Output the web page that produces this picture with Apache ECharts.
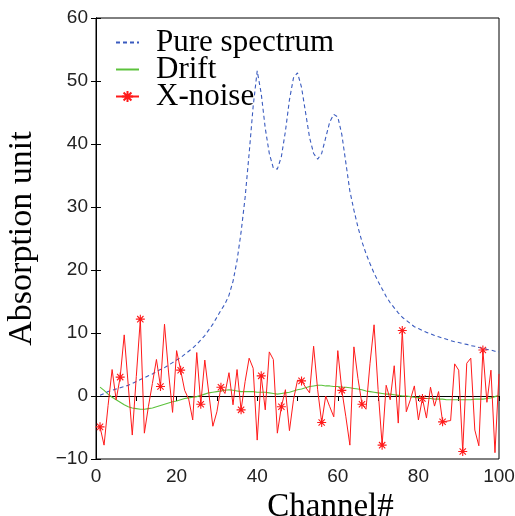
<!DOCTYPE html>
<html>
<head>
<meta charset="utf-8">
<script src="https://cdn.jsdelivr.net/npm/echarts@6/dist/echarts.min.js"></script>
<style>html,body{margin:0;padding:0;background:#fff}#c{width:515px;height:516px}</style>
</head>
<body>
<div id="c"></div>
<script>
var channels = [1,2,3,4,5,6,7,8,9,10,11,12,13,14,15,16,17,18,19,20,21,22,23,24,25,26,27,28,29,30,31,32,33,34,35,36,37,38,39,40,41,42,43,44,45,46,47,48,49,50,51,52,53,54,55,56,57,58,59,60,61,62,63,64,65,66,67,68,69,70,71,72,73,74,75,76,77,78,79,80,81,82,83,84,85,86,87,88,89,90,91,92,93,94,95,96,97,98,99,100];
var pureSpectrum = [0.1,0.4,0.7,0.9,1.1,1.3,1.5,1.7,2.0,2.3,2.6,2.9,3.2,3.5,3.9,4.2,4.5,4.9,5.3,5.7,6.1,6.6,7.1,7.6,8.2,8.9,9.6,10.5,11.4,12.5,13.6,14.6,16.0,18.2,21.5,26.0,31.5,38.5,46.0,51.6,48.0,42.5,38.5,36.2,36.0,38.0,42.0,47.0,50.5,51.3,49.0,45.0,41.0,38.5,37.6,38.5,41.0,43.5,44.7,44.3,41.5,37.0,32.5,29.5,26.8,24.5,22.6,21.0,19.5,18.2,17.0,15.8,14.8,14.0,13.2,12.5,12.0,11.5,11.0,10.7,10.4,10.1,9.9,9.6,9.4,9.2,9.0,8.8,8.6,8.5,8.3,8.2,8.0,7.9,7.7,7.6,7.4,7.3,7.1,7.0];
var drift = [1.4,0.9,0.3,-0.2,-0.6,-1.0,-1.4,-1.7,-1.9,-2.0,-2.1,-2.1,-2.0,-1.9,-1.7,-1.5,-1.3,-1.1,-0.9,-0.8,-0.6,-0.4,-0.3,-0.2,-0.1,0.1,0.3,0.5,0.6,0.7,0.8,0.9,1.0,0.9,0.8,0.7,0.7,0.7,0.7,0.6,0.6,0.6,0.5,0.4,0.3,0.4,0.5,0.6,0.8,1.0,1.1,1.3,1.5,1.6,1.7,1.7,1.6,1.6,1.5,1.5,1.4,1.4,1.3,1.2,1.1,1.0,0.8,0.7,0.6,0.5,0.4,0.3,0.3,0.2,0.1,0.0,0.0,-0.1,-0.2,-0.3,-0.3,-0.4,-0.4,-0.5,-0.5,-0.5,-0.6,-0.6,-0.6,-0.6,-0.6,-0.6,-0.6,-0.5,-0.5,-0.5,-0.4,-0.3,-0.1,0.1];
var xNoise = [-4.9,-7.8,-1.5,4.2,-0.6,3.0,9.7,1.7,-6.2,3.1,12.2,-5.9,-1.7,2.0,5.8,1.5,11.4,3.8,-2.6,7.2,4.1,0.9,-0.5,-3.8,6.9,-1.3,5.7,0.4,-4.8,-2.5,1.4,0.4,3.7,-1.4,4.2,-2.2,2.3,6.0,4.4,-7.0,3.2,-2.2,7.0,5.8,-5.9,-1.7,1.0,-5.5,-0.6,2.5,2.4,1.4,0.5,7.9,1.0,-4.2,0.0,-1.7,-3.3,7.2,0.9,-3.3,-7.8,7.8,2.8,-1.3,-2.1,5.2,11.3,1.0,-7.8,1.7,-0.6,4.8,-4.3,10.4,-2.5,-0.6,1.6,-3.8,-0.4,-3.5,1.4,-1.6,0.7,-4.1,-4.0,-3.9,5.1,4.1,-8.8,5.2,6.0,-5.4,-7.9,7.3,-1.0,4.1,-9.0,3.5];
var markerChannels = [1,6,11,16,21,26,31,36,41,46,51,56,61,66,71,76,81,86,91,96];
var xTicks = [0,20,40,60,80,100];
var yTicks = [-10,0,10,20,30,40,50,60];
var xRange = [0,100];
var yRange = [-10,60];

var star = 'path://M5,0L5,10M0,5L10,5M1.5,1.5L8.5,8.5M1.5,8.5L8.5,1.5';

function pairs(vals){ return channels.map(function(c,i){ return [c, vals[i]]; }); }
var noiseData = channels.map(function(c,i){
  var item = {value:[c, xNoise[i]]};
  if (markerChannels.indexOf(c) < 0) item.symbol = 'none';
  return item;
});

var serif = 'Liberation Serif';
var sans = 'Liberation Sans';
function ticks(){ return {show:true, inside:true, length:5, lineStyle:{color:'#000', width:1}}; }
function aline(){ return {show:true, lineStyle:{color:'#000', width:1}}; }

var chart = echarts.init(document.getElementById('c'), null, {renderer:'canvas'});
chart.setOption({
  animation:false,
  backgroundColor:'#fff',
  grid:{left:96, top:18, right:16, bottom:57, outerBoundsMode:'none'},
  legend:{
    orient:'vertical', left:115, top:27, padding:0, itemWidth:23, itemHeight:14, itemGap:-4,
    textStyle:{fontFamily:serif, fontSize:31, color:'#000', lineHeight:27, padding:[0,0,0,12]},
    data:[
      {name:'Pure spectrum', itemStyle:{color:'rgba(0,0,0,0)', borderColor:'rgba(0,0,0,0)'}},
      {name:'Drift', itemStyle:{color:'rgba(0,0,0,0)', borderColor:'rgba(0,0,0,0)'}},
      {name:'X-noise'}
    ]
  },
  xAxis:[{
    type:'value', min:xRange[0], max:xRange[1], interval:10, position:'bottom',
    name:'Channel#', nameLocation:'middle', nameGap:23,
    nameTextStyle:{fontFamily:serif, fontSize:33, color:'#000', padding:[0,0,0,66]},
    axisLine:{show:false},
    axisTick:{show:false},
    axisLabel:{fontFamily:sans, fontSize:19, color:'#222', margin:8,
      formatter:function(v){ return xTicks.indexOf(v) >= 0 ? String(v) : ''; }},
    splitLine:{show:false}
  },{
    type:'value', min:xRange[0], max:xRange[1], interval:10, position:'top',
    axisLine:aline(), axisTick:ticks(),
    axisLabel:{show:false}, splitLine:{show:false}
  }],
  yAxis:[{
    type:'value', min:yRange[0], max:yRange[1], interval:10, position:'left',
    name:'Absorption unit', nameLocation:'middle', nameGap:57, nameRotate:90,
    nameTextStyle:{fontFamily:serif, fontSize:34, color:'#000'},
    axisLine:aline(),
    axisTick:ticks(),
    axisLabel:{fontFamily:sans, fontSize:19, color:'#222', margin:8,
      formatter:function(v){ if (yTicks.indexOf(v) < 0) return ''; return v < 0 ? '\u2212' + Math.abs(v) : String(v); }},
    splitLine:{show:false}
  },{
    type:'value', min:yRange[0], max:yRange[1], interval:10, position:'right',
    axisLine:aline(), axisTick:ticks(),
    axisLabel:{show:false}, splitLine:{show:false}
  }],
  series:[{
    name:'Pure spectrum', type:'line', data:pairs(pureSpectrum), symbol:'none', clip:false,
    lineStyle:{color:'#3a5bbf', width:1.1, type:[4,3]}, itemStyle:{color:'#3a5bbf'}, z:3,
    markArea:{
      silent:true, label:{show:false},
      itemStyle:{color:'rgba(0,0,0,0)', borderColor:'#000', borderWidth:1},
      data:[[{xAxis:xRange[0], yAxis:yRange[0]}, {xAxis:xRange[1], yAxis:yRange[1]}]]
    }
  },{
    name:'Drift', type:'line', data:pairs(drift), symbol:'none',
    lineStyle:{color:'#5cc23c', width:1.1}, itemStyle:{color:'#5cc23c'}, z:2
  },{
    name:'X-noise', type:'line', data:noiseData, symbol:star, symbolSize:9, showAllSymbol:true,
    lineStyle:{color:'#ff1a1a', width:1}, itemStyle:{color:'#ff1a1a', borderColor:'#ff1a1a', borderWidth:1.1}, z:4
  }]
});
</script>
</body>
</html>
